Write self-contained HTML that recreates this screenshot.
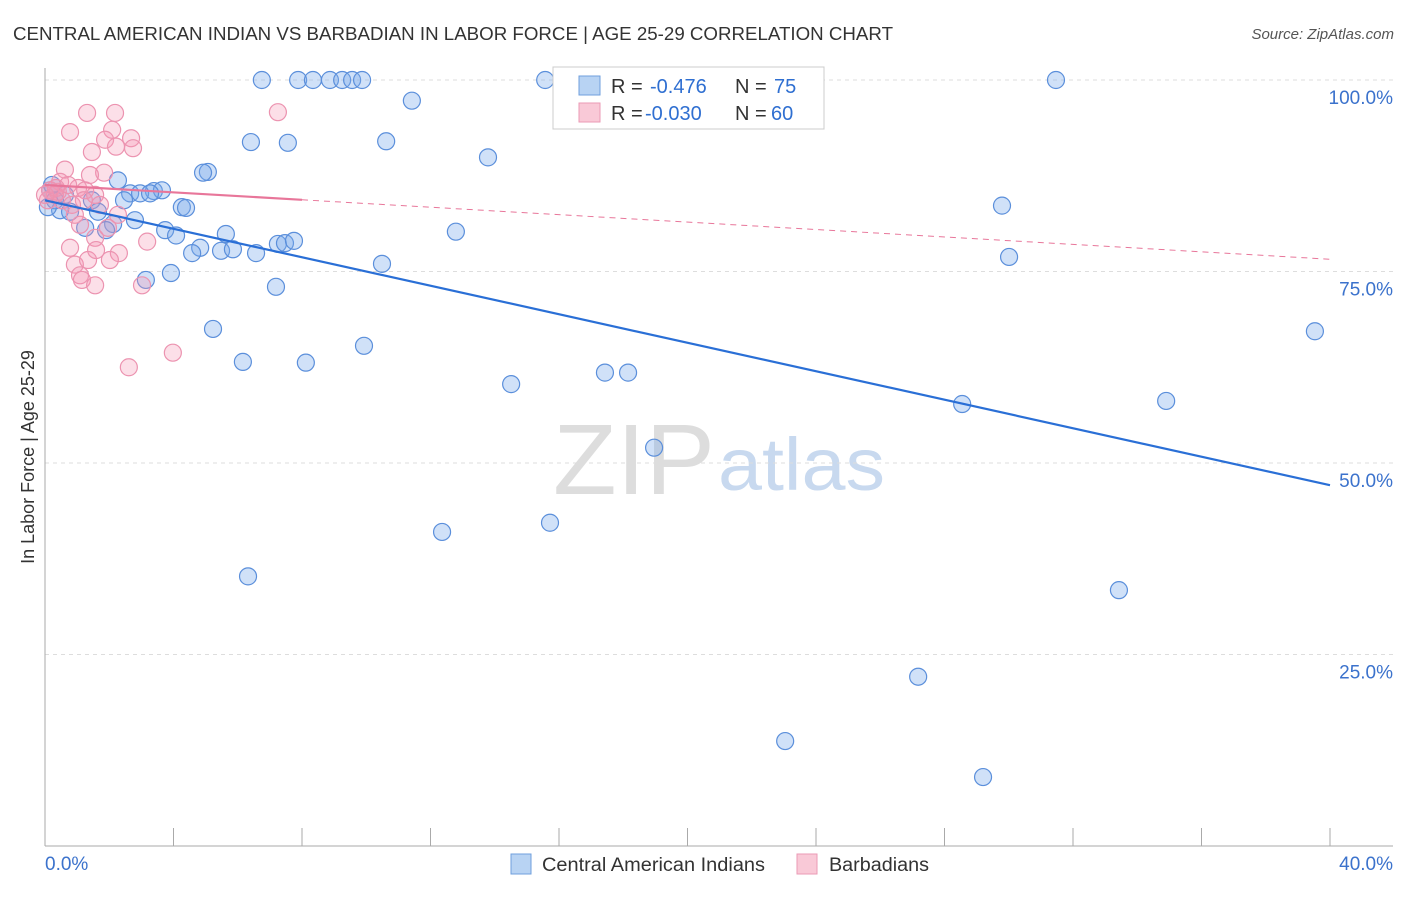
<!DOCTYPE html>
<html><head><meta charset="utf-8"><style>
body{margin:0;background:#fff;font-family:"Liberation Sans",sans-serif}
svg text{font-family:"Liberation Sans",sans-serif}
</style></head><body>
<svg id="chart" width="1406" height="892" xmlns="http://www.w3.org/2000/svg">
<text x="13" y="40" font-size="18" fill="#333" textLength="880" lengthAdjust="spacingAndGlyphs">CENTRAL AMERICAN INDIAN VS BARBADIAN IN LABOR FORCE | AGE 25-29 CORRELATION CHART</text>
<text x="1394" y="39" font-size="15" fill="#555" text-anchor="end" font-style="italic">Source: ZipAtlas.com</text>
<g>
<text x="553" y="494" font-size="100" fill="#ddd" font-family="Liberation Serif,serif" textLength="162" lengthAdjust="spacingAndGlyphs">ZIP</text>
<text x="718" y="490" font-size="74" fill="#c8d9ef" textLength="167" lengthAdjust="spacingAndGlyphs">atlas</text>
</g>
<g id="grid"></g>
<g id="axes"></g>
<g id="marks"></g>
<g>
<rect x="553" y="67" width="271" height="62" fill="#fff" stroke="#ccc"/>
<rect x="579" y="76" width="21" height="19" fill="#b8d3f3" stroke="#6f9fdc"/>
<rect x="579" y="103" width="21" height="19" fill="#f9c9d7" stroke="#eb9ab5"/>
<text x="611" y="93" font-size="20" fill="#333">R = </text><text x="650" y="93" font-size="20" fill="#2f6fd1">-0.476</text>
<text x="735" y="93" font-size="20" fill="#333">N = </text><text x="774" y="93" font-size="20" fill="#2f6fd1">75</text>
<text x="611" y="120" font-size="20" fill="#333">R = </text><text x="645" y="120" font-size="20" fill="#2f6fd1">-0.030</text>
<text x="735" y="120" font-size="20" fill="#333">N = </text><text x="771" y="120" font-size="20" fill="#2f6fd1">60</text>
</g>
<g>
<rect x="511" y="854" width="20" height="20" fill="#b8d3f3" stroke="#6f9fdc"/>
<text x="542" y="871" font-size="19" fill="#333" textLength="223" lengthAdjust="spacingAndGlyphs">Central American Indians</text>
<rect x="797" y="854" width="20" height="20" fill="#f9c9d7" stroke="#eb9ab5"/>
<text x="829" y="871" font-size="19" fill="#333" textLength="100" lengthAdjust="spacingAndGlyphs">Barbadians</text>
</g>
<text transform="translate(34,457) rotate(-90)" font-size="18" fill="#333" text-anchor="middle">In Labor Force | Age 25-29</text>
</svg>
<script>
const blueX=[6.75,7.88,8.34,8.87,9.25,9.56,9.87,15.57,31.47,11.42,6.41,7.56,10.62,13.79,5.07,4.92,2.27,3.39,3.64,2.65,2.96,3.27,1.46,2.46,4.26,4.39,1.65,0.47,0.78,2.80,2.12,1.25,1.90,3.74,4.08,5.63,4.83,4.58,5.48,5.85,6.57,7.25,7.47,7.75,12.79,29.79,30.01,10.49,3.14,3.92,7.19,5.23,9.93,6.16,8.12,14.51,17.43,18.15,28.55,34.90,39.53,18.96,12.36,15.72,6.32,33.43,27.18,23.04,29.20,0.16,0.31,0.09,0.62,0.22];
const blueY=[100,100,100,100,100,100,100,100,100,97.3,91.9,91.8,92.0,89.9,88.0,87.9,86.9,85.5,85.6,85.2,85.2,85.2,84.3,84.3,83.4,83.3,82.8,83.0,82.8,81.7,81.2,80.7,80.4,80.4,79.7,79.9,78.1,77.4,77.7,77.9,77.4,78.6,78.7,79.0,80.2,83.6,76.9,76.0,73.9,74.8,73.0,67.5,65.3,63.2,63.1,60.3,61.8,61.8,57.7,58.1,67.2,52.0,41.0,42.2,35.2,33.4,22.1,13.7,9.0,85.6,84.3,83.4,85.0,86.3];
const pinkX=[2.18,7.25,1.31,0.78,2.09,2.68,1.87,1.46,2.21,2.74,0.62,1.84,1.40,1.03,1.25,0.47,1.56,0.16,0.31,0.09,0.53,0.84,0.93,1.09,1.56,2.27,0.78,1.96,2.30,0.93,1.34,1.59,2.02,1.09,1.15,1.56,3.02,3.18,3.98,2.61,0.40,0,0.72,1.71,1.21,0.34];
const pinkY=[95.7,95.8,95.7,93.2,93.5,92.4,92.2,90.6,91.3,91.1,88.3,87.9,87.6,85.9,85.6,86.7,85.0,85.6,85.0,84.3,84.3,83.7,82.4,81.1,79.4,82.4,78.1,80.7,77.4,75.9,76.5,77.8,76.5,74.5,73.9,73.2,73.2,78.9,64.4,62.5,85.4,85.0,86.3,83.7,84.3,85.9];
const blueTrend=[84.3,47.1];
const pinkTrend=[86.3,76.6];
const yTicks=[100,75,50,25];
const yTickLabels=["100.0%","75.0%","50.0%","25.0%"];
const xTicks=[0,4,8,12,16,20,24,28,32,36,40];
const xTickLabels=["0.0%","40.0%"];
const NS="http://www.w3.org/2000/svg";
const X=v=>45+v/40*1285, Y=v=>846-v*7.66;
function mk(tag,attrs,parent){const e=document.createElementNS(NS,tag);for(const k in attrs)e.setAttribute(k,attrs[k]);document.getElementById(parent).appendChild(e);return e;}
yTicks.forEach((t,i)=>{
 const l=mk('line',{x1:45,x2:1393,y1:Y(t),y2:Y(t),stroke:'#ddd','stroke-dasharray':'4,4'},'grid');
 
 
 const tx=mk('text',{x:1393,y:Y(t)+24,'font-size':19,fill:'#3b72cc','text-anchor':'end'},'axes');
 tx.textContent=yTickLabels[i];
 
 
});
const ax=mk('line',{x1:45,x2:45,y1:68,y2:846,stroke:'#aaa'},'axes');


const bx=mk('line',{x1:45,x2:1393,y1:846,y2:846,stroke:'#aaa'},'axes');


xTicks.forEach(t=>{
 const l=mk('line',{x1:X(t),x2:X(t),y1:828,y2:846,stroke:'#aaa'},'axes');
 
 
});
[[0,'start'],[40,'end']].forEach((p,i)=>{
 const tx=mk('text',{x:i?1393:45,y:870,'font-size':19,fill:'#3b72cc','text-anchor':p[1]},'axes');
 tx.textContent=xTickLabels[i];
 
 
});
blueX.forEach((x,i)=>{
 const c=mk('circle',{cx:X(x),cy:Y(blueY[i]),r:8.5,fill:'rgba(120,170,235,0.35)',stroke:'#5b8fdb','stroke-width':1.2},'marks');
 
 
});
pinkX.forEach((x,i)=>{
 const c=mk('circle',{cx:X(x),cy:Y(pinkY[i]),r:8.5,fill:'rgba(245,150,180,0.3)',stroke:'#ec93b0','stroke-width':1.2},'marks');
 
 
});
const bl=mk('line',{x1:X(0),y1:Y(blueTrend[0]),x2:X(40),y2:Y(blueTrend[1]),stroke:'#2a6fd6','stroke-width':2.2},'marks');


const pAt=v=>pinkTrend[0]+(pinkTrend[1]-pinkTrend[0])*v/40;
const pd=mk('line',{x1:X(8),y1:Y(pAt(8)),x2:X(40),y2:Y(pinkTrend[1]),stroke:'#e8769a','stroke-width':1,'stroke-dasharray':'6,5'},'marks');


const ps=mk('line',{x1:X(0),y1:Y(pinkTrend[0]),x2:X(8),y2:Y(pAt(8)),stroke:'#e8769a','stroke-width':2.2},'marks');


</script>
</body></html>
